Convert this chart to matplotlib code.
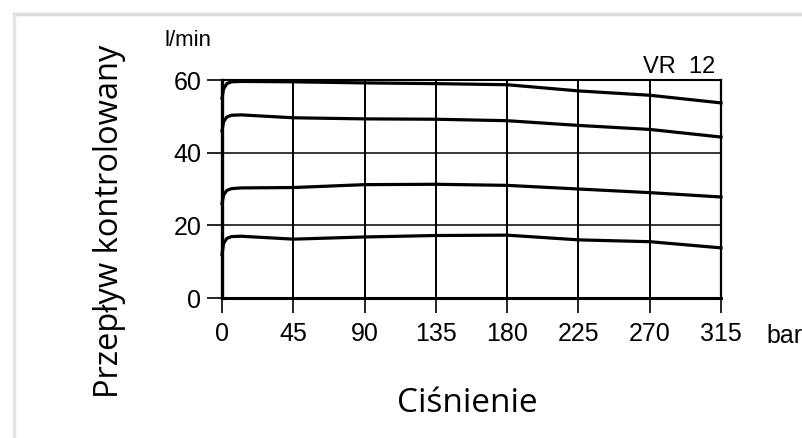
import matplotlib.pyplot as plt
from matplotlib.lines import Line2D

# pressure in bar, flow in l/min
pressure = [0, 1, 3, 6, 12, 45, 90, 135, 180, 225, 270, 315]
flow_60 = [55.0, 57.5, 59.0, 59.5, 59.6, 59.5, 59.2, 59.0, 58.7, 57.0, 55.8, 53.7]
flow_50 = [46.0, 48.5, 49.8, 50.3, 50.4, 49.6, 49.3, 49.2, 48.8, 47.5, 46.4, 44.3]
flow_30 = [26.0, 28.3, 29.6, 30.1, 30.3, 30.4, 31.2, 31.3, 31.0, 30.0, 29.0, 27.8]
flow_17 = [12.0, 15.0, 16.4, 16.9, 17.0, 16.2, 16.8, 17.2, 17.3, 16.0, 15.5, 13.8]
curves = [flow_60, flow_50, flow_30, flow_17]

x_ticks = [0, 45, 90, 135, 180, 225, 270, 315]
y_ticks = [0, 20, 40, 60]

tick_font = "Liberation Sans"
label_font = ["Open Sans", "DejaVu Sans"]

fig = plt.figure(figsize=(8.03, 4.38), dpi=100)
ax = fig.add_axes([222 / 803, 1 - 298 / 438, 499 / 803, 218 / 438])

# grid of the scanned sheet
for x in x_ticks[1:-1]:
    ax.axvline(x, color="black", lw=1.4, zorder=1)
for y in y_ticks[1:-1]:
    ax.axhline(y, color="black", lw=1.1, zorder=1)

for flow in curves:
    ax.plot(pressure, flow, color="black", lw=2.3, clip_on=False,
            solid_joinstyle="round", zorder=3)

ax.set_xlim(0, 315)
ax.set_ylim(0, 60)
ax.set_xticks(x_ticks)
ax.set_yticks(y_ticks)
ax.set_xticklabels([str(v) for v in x_ticks], family=tick_font, fontsize=18)
ax.set_yticklabels([str(v) for v in y_ticks], family=tick_font, fontsize=18)
ax.tick_params(axis="both", direction="out", length=11, width=1.2, color="black")
ax.tick_params(axis="x", pad=6)
ax.tick_params(axis="y", pad=4)

ax.spines["left"].set_linewidth(2.4)
ax.spines["bottom"].set_linewidth(2.2)
ax.spines["top"].set_linewidth(1.5)
ax.spines["right"].set_linewidth(1.6)

# unit labels and type mark from the sheet
fig.text(165 / 803, 1 - 40 / 438, "l/min", family=tick_font, fontsize=16,
         ha="left", va="center")
fig.text(643 / 803, 1 - 67 / 438, "VR  12", family=tick_font, fontsize=17,
         ha="left", va="center")
fig.text(766 / 803, 1 - 336 / 438, "bar", family=tick_font, fontsize=18,
         ha="left", va="center")

# overlay axis titles
fig.text(110 / 803, 1 - 221 / 438, "Przepływ kontrolowany", family=label_font,
         fontsize=23.5, rotation=90, ha="center", va="center")
fig.text(467 / 803, 1 - 404 / 438, "Ciśnienie", family=label_font,
         fontsize=24, ha="center", va="center")

# light card edge at top and left
fig.add_artist(Line2D([14 / 803, 1], [1 - 13.5 / 438, 1 - 13.5 / 438],
                      transform=fig.transFigure, color="#dcdcdc", lw=2.5))
fig.add_artist(Line2D([14 / 803, 14 / 803], [0, 1 - 13.5 / 438],
                      transform=fig.transFigure, color="#e4e4e4", lw=2.5))

fig.savefig("out.png", dpi=100)
